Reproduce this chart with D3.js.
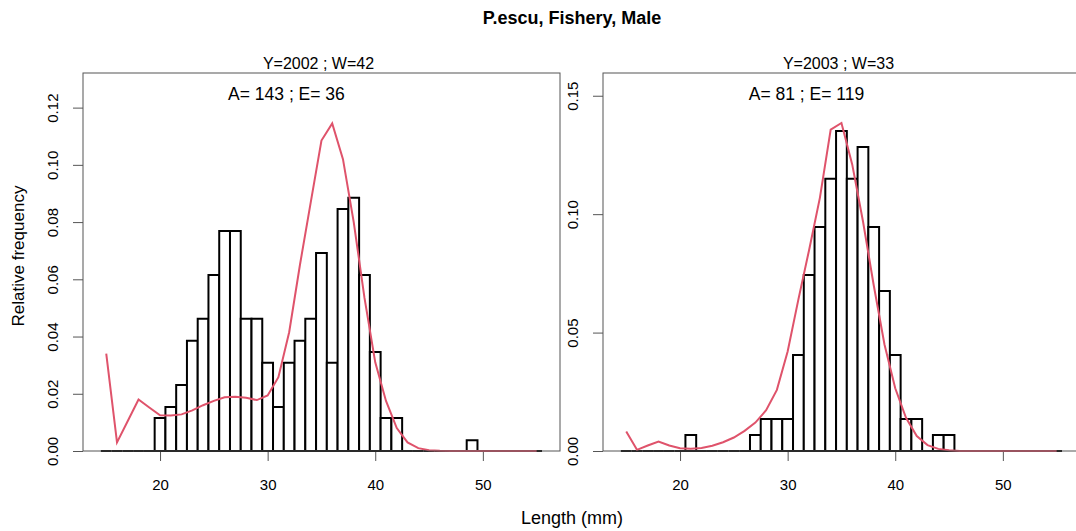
<!DOCTYPE html>
<html>
<head>
<meta charset="utf-8">
<script src="https://cdn.jsdelivr.net/npm/d3@7"></script>
<style>
    body { margin: 0; background: #fff; }
    text { font-family: Arial, "Liberation Sans", sans-serif; fill: #000; }
</style>
</head>
<body>
<div id="viz"></div>
<script>
const width = 1076;
const height = 531;
const boxTop = 73;
const boxBottom = 451;
const boxWidth = 477;
const lineColor = '#DF536B';

// length classes (mm), one bin per mm
const lengths = [15, 16, 17, 18, 19, 20, 21, 22, 23, 24, 25, 26, 27, 28, 29, 30,
                 31, 32, 33, 34, 35, 36, 37, 38, 39, 40, 41, 42, 43, 44, 45, 46,
                 47, 48, 49, 50, 51, 52, 53, 54, 55];
const xTicks = [20, 30, 40, 50];

// 2002 observed relative frequency and fitted curve
const obs2002 = [0, 0, 0, 0, 0, 0.0115, 0.0154, 0.0231, 0.0385, 0.0462, 0.0615, 0.0769,
                 0.0769, 0.0462, 0.0462, 0.0308, 0.0154, 0.0308, 0.0385, 0.0462, 0.0692,
                 0.0308, 0.0846, 0.0885, 0.0615, 0.0346, 0.0115, 0.0115, 0, 0, 0, 0, 0, 0,
                 0.0038, 0, 0, 0, 0, 0, 0];
const fit2002 = [0.0340, 0.0030, 0.0105, 0.0180, 0.0152, 0.0125, 0.0124, 0.0128, 0.0142,
                 0.0160, 0.0175, 0.0188, 0.0190, 0.0186, 0.0178, 0.0194, 0.0258, 0.0415,
                 0.0650, 0.0868, 0.1085, 0.1145, 0.1020, 0.0800, 0.0535, 0.0310, 0.0175,
                 0.0080, 0.0030, 0.0010, 0.0003, 0.0001, 0, 0, 0, 0, 0, 0, 0, 0, 0];
const yTicks2002 = [0, 0.02, 0.04, 0.06, 0.08, 0.10, 0.12];

// 2003
const obs2003 = [0, 0, 0, 0, 0, 0, 0.0068, 0, 0, 0, 0, 0, 0.0068, 0.0135, 0.0135, 0.0135,
                 0.0405, 0.0743, 0.0946, 0.1149, 0.1351, 0.1149, 0.1284, 0.0946, 0.0676,
                 0.0405, 0.0135, 0.0135, 0, 0.0068, 0.0068, 0, 0, 0, 0, 0, 0, 0, 0, 0, 0];
const fit2003 = [0.0082, 0.0005, 0.0023, 0.0040, 0.0023, 0.0012, 0.0009, 0.0013, 0.0022,
                 0.0037, 0.0057, 0.0085, 0.0120, 0.0172, 0.0258, 0.0420, 0.0640, 0.0850,
                 0.1070, 0.1357, 0.1385, 0.1210, 0.0970, 0.0700, 0.0450, 0.0265, 0.0140,
                 0.0063, 0.0025, 0.0009, 0.0003, 0, 0, 0, 0, 0, 0, 0, 0, 0, 0];
const yTicks2003 = [0, 0.05, 0.10, 0.15];

const panels = [
    {left: 83,  title: 'Y=2002 ; W=42', note: 'A= 143 ; E= 36', obs: obs2002, fit: fit2002,
     yMax: 0.1321, ticks: yTicks2002, fmt: d3.format('.2f')},
    {left: 603, title: 'Y=2003 ; W=33', note: 'A= 81 ; E= 119', obs: obs2003, fit: fit2003,
     yMax: 0.1596, ticks: yTicks2003, fmt: d3.format('.2f')}
];

const svg = d3.select('#viz')
    .append('svg')
        .attr('width', width)
        .attr('height', height);

svg.append('text')
    .attr('x', 572)
    .attr('y', 24)
    .attr('text-anchor', 'middle')
    .attr('font-size', 18)
    .attr('font-weight', 'bold')
    .text('P.escu, Fishery, Male');

svg.append('text')
    .attr('x', 572)
    .attr('y', 524)
    .attr('text-anchor', 'middle')
    .attr('font-size', 18)
    .text('Length (mm)');

svg.append('text')
    .attr('text-anchor', 'middle')
    .attr('font-size', 17)
    .attr('transform', `translate(24, ${(boxTop + boxBottom) / 2 - 6}) rotate(-90)`)
    .text('Relative frequency');

function drawPanel(p)
{
    const x = d3.scaleLinear()
        .domain([12.84, 57.17])
        .range([p.left, p.left + boxWidth]);
    const y = d3.scaleLinear()
        .domain([0, p.yMax])
        .range([boxBottom, boxTop]);

    const g = svg.append('g');

    // x axis
    const xAxis = g.append('g')
        .attr('transform', `translate(0, ${boxBottom})`)
        .call(d3.axisBottom(x).tickValues(xTicks).tickSize(10).tickPadding(18).tickSizeOuter(0));
    xAxis.select('.domain').remove();
    xAxis.selectAll('line').attr('stroke', '#555');
    xAxis.selectAll('text')
        .attr('font-size', 15)
        .attr('font-family', 'Arial, "Liberation Sans", sans-serif');

    // y axis, labels turned like R's las=0
    const yAxis = g.append('g')
        .attr('transform', `translate(${p.left}, 0)`)
        .call(d3.axisLeft(y).tickValues(p.ticks).tickFormat(p.fmt).tickSize(10).tickSizeOuter(0));
    yAxis.select('.domain').remove();
    yAxis.selectAll('line').attr('stroke', '#555');
    yAxis.selectAll('text')
        .attr('font-size', 15)
        .attr('font-family', 'Arial, "Liberation Sans", sans-serif')
        .attr('text-anchor', 'middle')
        .attr('x', 0)
        .attr('dy', 0)
        .attr('transform', 'translate(-25, 0) rotate(-90)');

    g.append('text')
        .attr('x', p.left + boxWidth / 2 - 3)
        .attr('y', 69)
        .attr('text-anchor', 'middle')
        .attr('font-size', 16)
        .text(p.title);

    g.append('text')
        .attr('x', x(31.75))
        .attr('y', 100)
        .attr('text-anchor', 'middle')
        .attr('font-size', 17.5)
        .text(p.note);

    // histogram bars, zero bins still draw their base line
    g.selectAll('path.bar')
        .data(p.obs)
        .join('path')
            .attr('class', 'bar')
            .attr('d', (d, i) => {
                const x0 = x(lengths[i] - 0.5), x1 = x(lengths[i] + 0.5);
                return `M${x0},${y(0)}V${y(d)}H${x1}V${y(0)}Z`;
            })
            .attr('fill', '#fff')
            .attr('stroke', '#000')
            .attr('stroke-width', 2);

    var fitLine = d3.line()
        .x((d, i) => x(lengths[i]))
        .y(d => y(d));
    g.append('path')
        .attr('d', fitLine(p.fit))
        .attr('fill', 'none')
        .attr('stroke', lineColor)
        .attr('stroke-width', 2);

    g.append('rect')
        .attr('x', p.left)
        .attr('y', boxTop)
        .attr('width', boxWidth)
        .attr('height', boxBottom - boxTop)
        .attr('fill', 'none')
        .attr('stroke', '#555')
        .attr('stroke-width', 1);
}

panels.forEach(drawPanel);
</script>
</body>
</html>
